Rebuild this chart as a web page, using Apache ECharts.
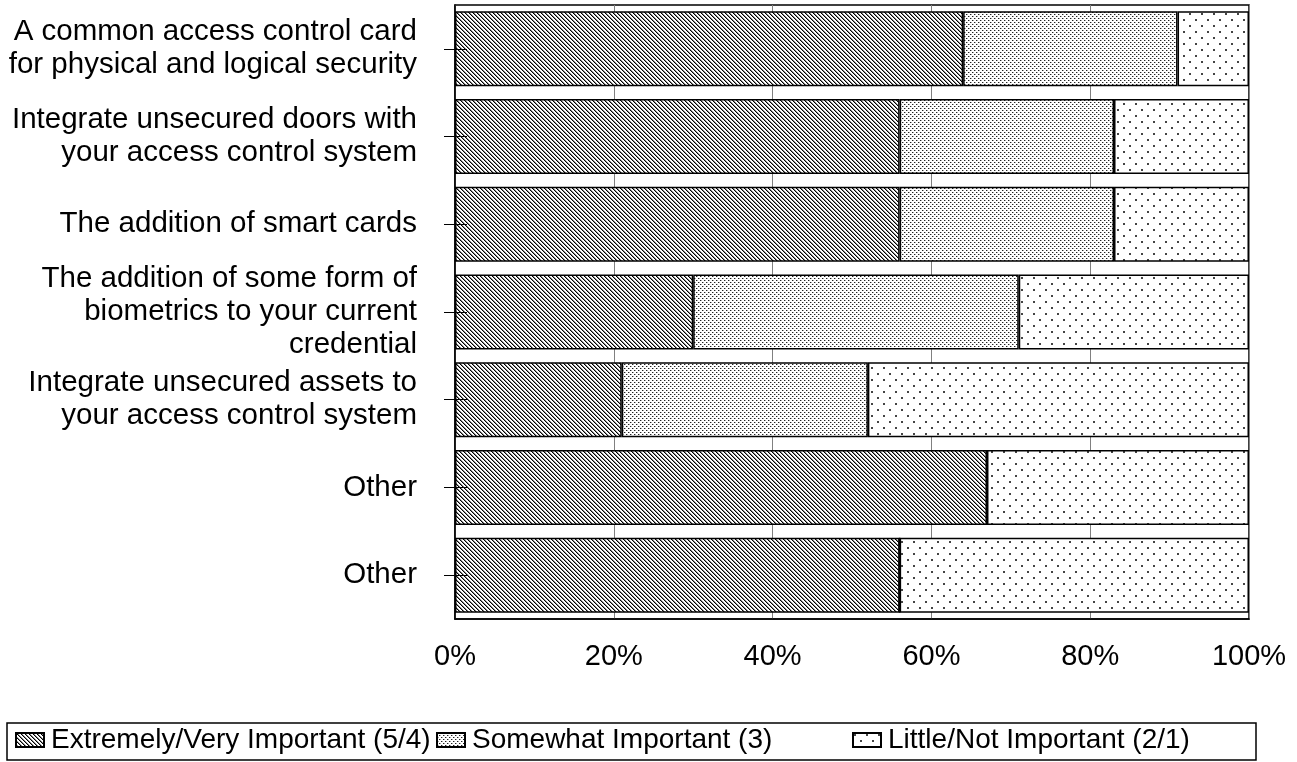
<!DOCTYPE html>
<html>
<head>
<meta charset="utf-8">
<script src="https://cdn.jsdelivr.net/npm/echarts@6/dist/echarts.min.js"></script>
<style>
  body { margin: 0; background: #fff; }
  #chart { width: 1297px; height: 762px; }
</style>
</head>
<body>
<div id="chart"></div>
<script>
// categories, top to bottom
var categories = [
  'A common access control card\nfor physical and logical security',
  'Integrate unsecured doors with\nyour access control system',
  'The addition of smart cards',
  'The addition of some form of\nbiometrics to your current\ncredential',
  'Integrate unsecured assets to\nyour access control system',
  'Other',
  'Other'
];
var seriesNames = ['Extremely/Very Important (5/4)', 'Somewhat Important (3)', 'Little/Not Important (2/1)'];
// percent of respondents
var extremelyVery = [64, 56, 56, 30, 21, 67, 56];
var somewhat = [27, 27, 27, 41, 31, 0, 0];
var littleNot = [9, 17, 17, 29, 48, 33, 44];
var xTicks = [0, 20, 40, 60, 80, 100];

// fill patterns drawn on small canvases
function makeTile(w, h, draw) {
  var c = document.createElement('canvas');
  c.width = w; c.height = h;
  var ctx = c.getContext('2d');
  ctx.fillStyle = '#fff';
  ctx.fillRect(0, 0, w, h);
  draw(ctx);
  return { image: c, repeat: 'repeat' };
}
// dense diagonal hatch
var hatch = makeTile(4, 4, function (ctx) {
  for (var y = 0; y < 4; y++) {
    ctx.fillStyle = '#000';
    ctx.fillRect(y, y, 1, 1);
    ctx.fillStyle = '#888';
    ctx.fillRect((y + 1) % 4, y, 1, 1);
  }
});
// dense dots
var denseDots = makeTile(4, 4, function (ctx) {
  ctx.fillStyle = '#222';
  ctx.fillRect(0, 0, 1, 1);
  ctx.fillRect(2, 2, 1, 1);
  ctx.fillStyle = '#aaa';
  ctx.fillRect(1, 0, 1, 1);
  ctx.fillRect(3, 2, 1, 1);
});
// sparse dots
var sparseDots = makeTile(12, 12, function (ctx) {
  ctx.fillStyle = '#444';
  ctx.fillRect(1, 1, 2, 2);
  ctx.fillRect(7, 7, 2, 2);
});

var font = '"Liberation Sans", Arial, sans-serif';
var chart = echarts.init(document.getElementById('chart'));

function barSeries(name, data, fill) {
  return {
    name: name,
    type: 'bar',
    stack: 'total',
    barCategoryGap: '14.5%',
    data: data,
    itemStyle: { color: fill, borderColor: '#000', borderWidth: 1.5 }
  };
}

// one legend per entry so the entries sit in equal-width columns, like Excel
var legendLeft = [15, 436, 852];
var legends = seriesNames.map(function (name, i) {
  return {
    left: legendLeft[i], top: 726,
    icon: 'rect',
    itemWidth: 28, itemHeight: 14,
    padding: 0,
    textStyle: { fontFamily: font, fontSize: 28, color: '#000', padding: [0, 0, 0, 2] },
    data: [name]
  };
});

chart.setOption({
  animation: false,
  textStyle: { fontFamily: font, color: '#000' },
  grid: {
    left: 455, right: 48, top: 5, bottom: 143,
    show: true, borderColor: '#000', borderWidth: 1.5
  },
  legend: legends,
  graphic: [{
    type: 'rect',
    shape: { x: 7, y: 723, width: 1249, height: 37 },
    style: { fill: 'none', stroke: '#000', lineWidth: 1.5 },
    silent: true
  }],
  xAxis: {
    type: 'value',
    min: xTicks[0], max: xTicks[xTicks.length - 1], interval: 20,
    axisLine: { show: true, lineStyle: { color: '#000', width: 1.5 } },
    axisTick: { show: false },
    splitLine: { show: true, lineStyle: { color: '#808080', width: 1 } },
    axisLabel: {
      margin: 23, fontSize: 29, color: '#000', fontFamily: font,
      formatter: function (v) { return v + '%'; }
    }
  },
  yAxis: [{
    type: 'category',
    position: 'left',
    inverse: true,
    data: categories,
    axisLine: { show: true, lineStyle: { color: '#000', width: 1.5 } },
    axisTick: { show: true, alignWithLabel: true, length: 11, lineStyle: { color: '#000' } },
    axisLabel: {
      margin: 38, fontSize: 29.5, lineHeight: 33, color: '#000',
      fontFamily: font, align: 'right'
    }
  }, {
    type: 'category',
    position: 'left',
    inverse: true,
    data: categories,
    z: 10,
    axisLine: { show: false },
    axisTick: { show: true, alignWithLabel: true, inside: true, length: 12, lineStyle: { color: '#000' } },
    axisLabel: { show: false },
    splitLine: { show: false }
  }],
  series: [
    barSeries(seriesNames[0], extremelyVery, hatch),
    barSeries(seriesNames[1], somewhat, denseDots),
    barSeries(seriesNames[2], littleNot, sparseDots)
  ]
});
</script>
</body>
</html>
